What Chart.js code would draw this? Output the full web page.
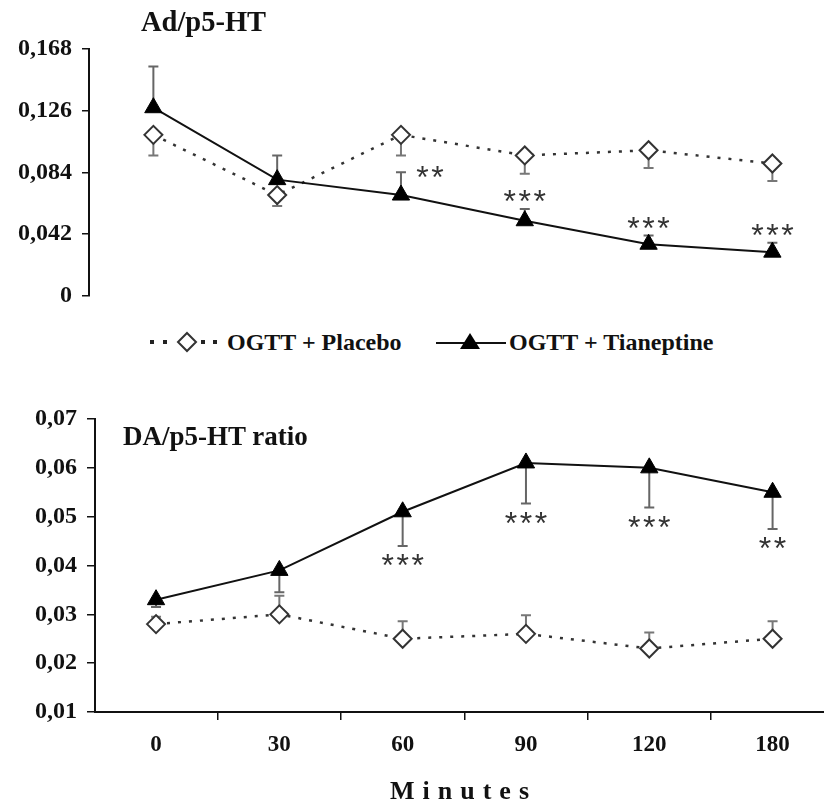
<!DOCTYPE html>
<html lang="en">
<head>
<meta charset="UTF-8">
<style>
  html, body { margin: 0; padding: 0; background: #fff; overflow: hidden; }
  body { width: 824px; height: 805px; position: relative; font-family: "Liberation Serif", serif; color: #111; }
  canvas { position: absolute; left: 0; }
  #adChart { top: 0; }
  #daChart { top: 380px; }
  .txt { position: absolute; font-weight: bold; line-height: 1; white-space: nowrap; }
  svg { position: absolute; }
</style>
<title>Ad/p5-HT and DA/p5-HT</title>
</head>
<body>
  <canvas id="adChart" width="824" height="320"></canvas>
  <canvas id="daChart" width="824" height="425"></canvas>

  <div class="txt" style="left:141px; top:8px; font-size:28.5px;">Ad/p5-HT</div>
  <div class="txt" style="left:123px; top:423px; font-size:27px;">DA/p5-HT ratio</div>

  <svg style="left:146px; top:330px;" width="80" height="24">
    <rect x="4" y="10" width="4" height="4" fill="#222"/>
    <rect x="17" y="10" width="4" height="4" fill="#222"/>
    <polygon points="41,3 50,12 41,21 32,12" fill="#fff" stroke="#333" stroke-width="2"/>
    <rect x="55" y="10" width="4" height="4" fill="#222"/>
    <rect x="67" y="10" width="4" height="4" fill="#222"/>
  </svg>
  <div class="txt" style="left:227px; top:330px; font-size:24px;">OGTT + Placebo</div>
  <svg style="left:434px; top:330px;" width="74" height="24">
    <line x1="2" y1="13" x2="72" y2="13" stroke="#111" stroke-width="2"/>
    <polygon points="36,3 46,19 26,19" fill="#000"/>
  </svg>
  <div class="txt" style="left:509px; top:330px; font-size:24px;">OGTT + Tianeptine</div>

  <div class="txt" style="left:390px; top:778px; font-size:26px; letter-spacing:8px;">Minutes</div>

  <script src="https://cdn.jsdelivr.net/npm/chart.js"></script>
  <script>
    const minutes = ['0', '30', '60', '90', '120', '180'];

    // Ad/p5-HT
    const adPlacebo = [0.1095, 0.0685, 0.1095, 0.0955, 0.099, 0.090];
    const adPlaceboErr = [0.014, 0.0075, 0.014, 0.0125, 0.012, 0.012];
    const adTian = [0.128, 0.079, 0.0685, 0.051, 0.035, 0.0296];
    const adTianErr = [0.028, 0.0165, 0.0155, 0.008, 0.006, 0.0064];
    const adSig = ['', '', '**', '***', '***', '***'];
    const adTicks = [0, 0.042, 0.084, 0.126, 0.168];
    const adTickLabels = ['0', '0,042', '0,084', '0,126', '0,168'];

    // DA/p5-HT ratio
    const daPlacebo = [0.028, 0.030, 0.025, 0.026, 0.023, 0.025];
    const daPlaceboErr = [0.0015, 0.0038, 0.0036, 0.0038, 0.0033, 0.0036];
    const daTian = [0.033, 0.039, 0.051, 0.061, 0.060, 0.055];
    const daTianErr = [0.0015, 0.0045, 0.007, 0.0083, 0.0081, 0.0075];
    const daSig = ['', '', '***', '***', '***', '**'];
    const daTicks = [0.01, 0.02, 0.03, 0.04, 0.05, 0.06, 0.07];
    const daTickLabels = ['0,01', '0,02', '0,03', '0,04', '0,05', '0,06', '0,07'];

    const toPoints = (vals) => vals.map((v, i) => ({ x: i, y: v }));

    // error bars under the markers, asterisks on top
    const errorBars = {
      id: 'errorBars',
      beforeDatasetsDraw(chart) {
        const ctx = chart.ctx;
        const ys = chart.scales.y;
        chart.data.datasets.forEach((ds, i) => {
          const meta = chart.getDatasetMeta(i);
          ctx.save();
          ctx.strokeStyle = ds.errColor;
          ctx.lineWidth = 2;
          meta.data.forEach((pt, j) => {
            const v = ds.data[j].y;
            const y0 = ys.getPixelForValue(v);
            const y1 = ys.getPixelForValue(v + ds.errDir * ds.errors[j]);
            ctx.beginPath();
            ctx.moveTo(pt.x, y0);
            ctx.lineTo(pt.x, y1);
            ctx.moveTo(pt.x - 5, y1);
            ctx.lineTo(pt.x + 5, y1);
            ctx.stroke();
          });
          ctx.restore();
        });
      },
      afterDatasetsDraw(chart, args, opts) {
        const ctx = chart.ctx;
        const ys = chart.scales.y;
        const size = 32;
        chart.data.datasets.forEach((ds, i) => {
          if (!ds.sig) return;
          const meta = chart.getDatasetMeta(i);
          ctx.save();
          ctx.fillStyle = '#333';
          ctx.font = size + 'px "Liberation Sans"';
          ctx.textAlign = 'center';
          ctx.textBaseline = 'alphabetic';
          meta.data.forEach((pt, j) => {
            const s = ds.sig[j];
            if (!s) return;
            const v = ds.data[j].y;
            const y1 = ys.getPixelForValue(v + ds.errDir * ds.errors[j]);
            let cy = ds.errDir > 0 ? y1 - 11 : y1 + 16;
            let cx = pt.x;
            const sh = (opts.shift || {})[j];
            if (sh) { cx += sh[0]; cy += sh[1]; }
            for (let k = 0; k < s.length; k++) {
              ctx.fillText('*', cx + (k - (s.length - 1) / 2) * 15, cy + size * 0.45);
            }
          });
          ctx.restore();
        });
      }
    };

    function makeChart(el, opt) {
      const yTicks = opt.ticks;
      const yLabels = opt.tickLabels;
      return new Chart(el, {
        type: 'line',
        data: {
          datasets: [
            {
              label: 'OGTT + Tianeptine',
              data: toPoints(opt.tian),
              errors: opt.tianErr,
              errDir: opt.tianDir,
              errColor: '#666',
              sig: opt.sig,
              borderColor: '#111',
              borderWidth: 2,
              pointStyle: 'triangle',
              pointRadius: 10,
              pointBackgroundColor: '#000',
              pointBorderColor: '#000',
              pointBorderWidth: 1,
              tension: 0,
              clip: false
            },
            {
              label: 'OGTT + Placebo',
              data: toPoints(opt.placebo),
              errors: opt.placeboErr,
              errDir: -opt.tianDir,
              errColor: '#777',
              borderColor: '#333',
              borderWidth: 2.5,
              borderDash: [3, 8],
              pointStyle: 'rectRot',
              pointRadius: 9,
              pointBackgroundColor: '#fff',
              pointBorderColor: '#333',
              pointBorderWidth: 2,
              tension: 0,
              clip: false
            }
          ]
        },
        options: {
          responsive: false,
          animation: false,
          devicePixelRatio: 1,
          layout: { autoPadding: false, padding: opt.padding },
          plugins: {
            legend: { display: false },
            tooltip: { enabled: false },
            errorBars: { shift: opt.shift }
          },
          scales: {
            x: {
              type: 'linear',
              display: opt.showX,
              min: opt.xMin,
              max: 5.417,
              afterBuildTicks: (s) => { s.ticks = minutes.map((m, i) => ({ value: i })); },
              afterFit: (s) => { if (opt.showX) s.height = 93; },
              ticks: {
                callback: (v, i) => minutes[i],
                font: { family: 'Liberation Serif', size: 23, weight: 'bold' },
                color: '#111',
                padding: 11,
                maxRotation: 0,
                autoSkip: false
              },
              grid: {
                drawOnChartArea: false,
                offset: true,
                tickLength: 8,
                color: '#111',
                lineWidth: 1.5
              },
              border: { display: true, color: '#111', width: 2 }
            },
            y: {
              min: yTicks[0],
              max: yTicks[yTicks.length - 1],
              afterBuildTicks: (s) => { s.ticks = yTicks.map(v => ({ value: v })); },
              afterFit: (s) => { s.width = opt.yWidth; },
              ticks: {
                callback: (v, i) => yLabels[i],
                font: { family: 'Liberation Serif', size: 24, weight: 'bold' },
                color: '#111',
                padding: 10
              },
              grid: {
                drawOnChartArea: false,
                tickLength: opt.tickLen,
                color: '#111',
                lineWidth: 1.5
              },
              border: { display: true, color: '#111', width: 2 }
            }
          }
        },
        plugins: [errorBars]
      });
    }

    makeChart(document.getElementById('adChart'), {
      placebo: adPlacebo, placeboErr: adPlaceboErr,
      tian: adTian, tianErr: adTianErr, tianDir: 1, sig: adSig,
      ticks: adTicks, tickLabels: adTickLabels,
      padding: { top: 49, bottom: 21, left: 0, right: 0 },
      yWidth: 89, tickLen: 7, showX: false, xMin: -0.52,
      shift: { 2: [29, 12] }
    });

    makeChart(document.getElementById('daChart'), {
      placebo: daPlacebo, placeboErr: daPlaceboErr,
      tian: daTian, tianErr: daTianErr, tianDir: -1, sig: daSig,
      ticks: daTicks, tickLabels: daTickLabels,
      padding: { top: 39, bottom: 0, left: 0, right: 0 },
      yWidth: 95, tickLen: 8, showX: true, xMin: -0.495,
      shift: {}
    });
  </script>
</body>
</html>
